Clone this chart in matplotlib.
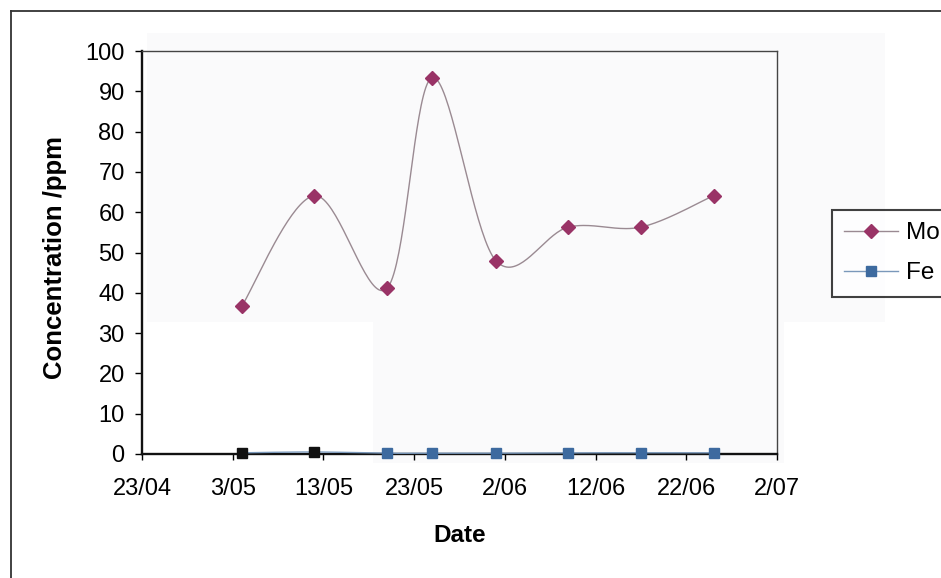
import numpy as np
import matplotlib
matplotlib.use("Agg")
import matplotlib.pyplot as plt
import matplotlib.dates as mdates
from matplotlib.lines import Line2D
from matplotlib.patches import Rectangle
from matplotlib.ticker import FuncFormatter, FixedLocator, MultipleLocator
import datetime as dt

plt.rcParams['font.family'] = ['Liberation Sans', 'DejaVu Sans']

# Sampling dates and measured concentrations (ppm)
sample_dates = ["2005-05-04", "2005-05-12", "2005-05-20", "2005-05-25",
                "2005-06-01", "2005-06-09", "2005-06-17", "2005-06-25"]
mo_ppm = [36.7, 64.1, 41.1, 93.4, 48.0, 56.3, 56.3, 64.1]
fe_ppm = [0.3, 0.5, 0.2, 0.2, 0.2, 0.3, 0.3, 0.3]
series_names = ["Mo", "Fe"]
x_start, x_end = "2005-04-23", "2005-07-02"
x_tick_step_days = 10

dates = [dt.datetime.strptime(d, "%Y-%m-%d") for d in sample_dates]
xnum = mdates.date2num(dates)


def smooth(x, y, n=40):
    """Catmull-Rom (Bezier) smoothing through every point, like a spreadsheet smoothed line."""
    x = np.asarray(x, float)
    y = np.asarray(y, float)
    px = np.concatenate([[x[0]], x, [x[-1]]])
    py = np.concatenate([[y[0]], y, [y[-1]]])
    xs, ys = [], []
    t = np.linspace(0, 1, n)
    for i in range(1, len(px) - 2):
        p0x, p1x, p2x, p3x = px[i - 1], px[i], px[i + 1], px[i + 2]
        p0y, p1y, p2y, p3y = py[i - 1], py[i], py[i + 1], py[i + 2]
        c1x = p1x + (p2x - p0x) / 6
        c1y = p1y + (p2y - p0y) / 6
        c2x = p2x - (p3x - p1x) / 6
        c2y = p2y - (p3y - p1y) / 6
        b0 = (1 - t) ** 3
        b1 = 3 * (1 - t) ** 2 * t
        b2 = 3 * (1 - t) * t ** 2
        b3 = t ** 3
        xs.append(b0 * p1x + b1 * c1x + b2 * c2x + b3 * p2x)
        ys.append(b0 * p1y + b1 * c1y + b2 * c2y + b3 * p2y)
    return np.concatenate(xs), np.concatenate(ys)


W, H = 941, 578
fig = plt.figure(figsize=(W / 100, H / 100), dpi=100)
fig.patch.set_facecolor("white")

# very light grey chart area background
grey = "#fafafb"
for (x0, y0, x1, y1) in [(147, 33, 885, 322), (373, 322, 784, 463)]:
    fig.patches.append(Rectangle((x0 / W, 1 - y1 / H), (x1 - x0) / W, (y1 - y0) / H,
                                 transform=fig.transFigure, facecolor=grey,
                                 edgecolor="none", zorder=-10))

# outer frame
fig.lines.append(Line2D([11 / W, 1.0], [1 - 11 / H, 1 - 11 / H], transform=fig.transFigure,
                        color="#333333", lw=1.3))
fig.lines.append(Line2D([11 / W, 11 / W], [0.0, 1 - 11 / H], transform=fig.transFigure,
                        color="#333333", lw=1.3))

ax = fig.add_axes([142 / W, 1 - 454 / H, (777 - 142) / W, (454 - 51) / H])
ax.set_facecolor("none")

mo_color = "#993366"
fe_color = "#3d6a9f"
mo_line = "#9a8a92"
fe_line = "#7a98ba"

sx, sy = smooth(xnum, mo_ppm)
ax.plot(sx, sy, color=mo_line, lw=1.0, zorder=3)
ax.plot(xnum, mo_ppm, linestyle="none", marker="D", ms=7.5, color=mo_color,
        mec=mo_color, zorder=4)

fx, fy = smooth(xnum, fe_ppm)
ax.plot(fx, fy, color=fe_line, lw=1.0, zorder=3, clip_on=False)
fe_faces = ["#111111", "#111111"] + [fe_color] * (len(fe_ppm) - 2)
for xv, yv, c in zip(xnum, fe_ppm, fe_faces):
    ax.plot([xv], [yv], linestyle="none", marker="s", ms=7.5, color=c, mec=c,
            zorder=4, clip_on=False)

x0 = mdates.date2num(dt.datetime.strptime(x_start, "%Y-%m-%d"))
x1 = mdates.date2num(dt.datetime.strptime(x_end, "%Y-%m-%d"))
ax.set_xlim(x0, x1)
ax.set_ylim(0, 100)
ax.xaxis.set_major_locator(FixedLocator(np.arange(x0, x1 + 0.5, x_tick_step_days)))
ax.yaxis.set_major_locator(MultipleLocator(10))
ax.xaxis.set_major_formatter(FuncFormatter(
    lambda v, p: "{}/{:02d}".format(mdates.num2date(v).day, mdates.num2date(v).month)))

ax.tick_params(axis="y", direction="out", length=5, width=1.0, pad=7.5, labelsize=17)
ax.tick_params(axis="x", direction="out", length=4.5, width=1.0, pad=12.5, labelsize=17)

for s in ["left", "bottom"]:
    ax.spines[s].set_linewidth(1.7)
    ax.spines[s].set_color("#111111")
for s in ["top", "right"]:
    ax.spines[s].set_linewidth(1.0)
    ax.spines[s].set_color("#444444")

ax.set_xlabel("Date", fontsize=17.5, fontweight="bold", va="center")
ax.xaxis.set_label_coords(0.5, -0.201)
ax.set_ylabel("Concentration /ppm", fontsize=18.5, fontweight="bold", va="center")
ax.yaxis.set_label_coords(-0.137, 0.488)

handles = [
    Line2D([], [], color=mo_line, lw=1.0, marker="D", ms=7.5, mfc=mo_color, mec=mo_color),
    Line2D([], [], color=fe_line, lw=1.0, marker="s", ms=7.5, mfc=fe_color, mec=fe_color),
]
leg = fig.legend(handles, series_names, loc="upper left",
                 bbox_to_anchor=(832 / W, 1 - 210 / H), borderaxespad=0,
                 frameon=True, fancybox=False, fontsize=17.5, handlelength=2.2,
                 handletextpad=0.35, labelspacing=0.75, borderpad=0.5)
leg.get_frame().set_edgecolor("#111111")
leg.get_frame().set_linewidth(1.5)
leg.get_frame().set_facecolor("white")

fig.savefig("out.png", dpi=100)
